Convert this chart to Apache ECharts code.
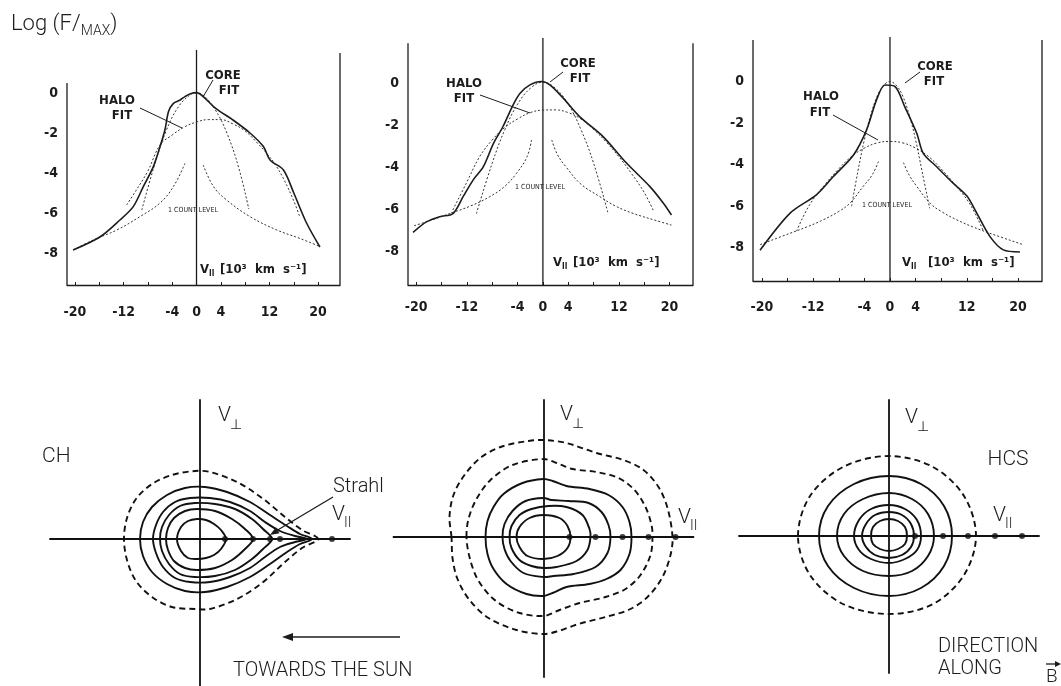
<!DOCTYPE html>
<html>
<head>
<meta charset="utf-8">
<title>Electron distributions: CH / intermediate / HCS</title>
<script src="https://cdn.jsdelivr.net/npm/echarts@6/dist/echarts.min.js"></script>
<style>
  html, body { margin: 0; padding: 0; background: #fff; }
  #chart { width: 1061px; height: 686px; }
</style>
</head>
<body>
<div id="chart"></div>
<script>
// ---------- values ----------
// top row: log(F/max) against V_par [10^3 km/s]
const vTicks = [-20, -12, -4, 0, 4, 12, 20];
const vMinorTicks = [-20, -16, -12, -8, -4, 0, 4, 8, 12, 16, 20];
const logTicks = [0, -2, -4, -6, -8];

// coronal hole (left)
const chMeasured = [[-20.3,-7.85],[-15.9,-7.2],[-12.6,-6.35],[-10.4,-5.68],[-8.75,-4.68],[-7.1,-3.68],[-6.0,-2.68],[-5.2,-1.85],[-4.6,-0.93],[-3.8,-0.52],[-2.7,-0.35],[-1.9,-0.18],[-1.1,-0.05],[0,0.02],[1.1,-0.18],[2.8,-0.68],[3.9,-0.93],[6.0,-1.35],[8.8,-2.0],[11.0,-2.68],[12.1,-3.35],[14.3,-3.85],[16.0,-5.0],[18.1,-6.5],[20.3,-7.7]];
const chCore = [[-9,-5.85],[-7,-3.7],[-5,-1.9],[-3,-0.7],[-1,-0.08],[0,0],[1,-0.08],[3,-0.8],[5,-2.0],[7,-3.8],[8.6,-5.8]];
const chHalo = [[-11.5,-5.6],[-10,-4.9],[-8,-3.9],[-6,-2.6],[-4,-2.1],[-2,-1.7],[0,-1.45],[2,-1.33],[4,-1.33],[6,-1.55],[8,-1.9],[10,-2.5],[11.5,-3.0],[13,-3.6],[14.5,-4.4],[16,-5.4],[17,-6.2]];
const chCountL = [[-1.9,-3.52],[-3.8,-4.68],[-6,-5.5],[-9.3,-6.18],[-13.1,-6.85],[-17,-7.35],[-20.3,-7.85]];
const chCountR = [[1.1,-3.6],[2.8,-4.68],[4.95,-5.35],[8.8,-6.18],[13.2,-6.85],[17,-7.27],[20.3,-7.68]];

// intermediate (middle)
const midMeasured = [[-20.5,-7.1],[-18.4,-6.6],[-16.3,-6.35],[-14.2,-6.2],[-12.6,-5.4],[-11.0,-4.6],[-9.4,-3.97],[-7.8,-2.86],[-6.3,-2.06],[-4.7,-1.03],[-3.6,-0.48],[-2.05,-0.08],[-0.2,0.08],[1.1,-0.08],[3.2,-0.71],[5.8,-1.59],[9.5,-2.54],[13.2,-3.8],[16.9,-4.92],[19.0,-5.7],[20.3,-6.27]];
const midCore = [[-10.5,-6.2],[-8,-3.8],[-6,-2.2],[-4,-1.0],[-2,-0.25],[0,0.05],[2,-0.25],[4,-1.0],[6,-2.2],[8,-3.8],[10.3,-6.2]];
const midHalo = [[-14.5,-6.2],[-12,-4.7],[-10,-3.5],[-8,-2.7],[-6,-2.1],[-4,-1.7],[-2,-1.4],[0,-1.28],[2,-1.27],[4,-1.4],[6,-1.7],[8,-2.2],[10,-2.8],[12,-3.5],[14,-4.3],[16,-5.2],[17.5,-6.1]];
const midCountL = [[-1.8,-2.7],[-2.5,-3.5],[-4.2,-4.3],[-6,-4.9],[-8.4,-5.4],[-11.5,-5.85],[-14.7,-6.2],[-17.5,-6.5],[-20.5,-6.8]];
const midCountR = [[1.4,-2.7],[2.3,-3.4],[3.7,-4.0],[6,-4.8],[9,-5.4],[11.5,-5.85],[14.3,-6.2],[17.5,-6.5],[20.3,-6.75]];

// current sheet (right)
const hcsMeasured = [[-20.3,-8.12],[-15.6,-6.33],[-11.5,-5.45],[-8.85,-4.57],[-5.7,-3.53],[-3.65,-2.32],[-2.1,-0.88],[-0.78,-0.16],[0.8,-0.24],[2.3,-1.2],[4.2,-2.5],[5.2,-3.45],[7.3,-4.1],[9.9,-4.9],[12,-5.5],[13.5,-6.3],[15.6,-7.45],[17.7,-8.1],[20.3,-8.2]];
const hcsCore = [[-6,-6.0],[-5,-4.3],[-4,-2.8],[-3,-1.6],[-2,-0.7],[-1,-0.18],[0,0],[1,-0.18],[2,-0.7],[3,-1.6],[4,-2.8],[5,-4.3],[6.2,-6.1]];
const hcsHalo = [[-14.6,-7.2],[-12.5,-5.9],[-10,-4.9],[-8,-4.2],[-6,-3.6],[-4,-3.2],[-2,-2.95],[0,-2.88],[2,-2.95],[4,-3.2],[6,-3.6],[8,-4.2],[10,-4.9],[12.5,-5.9],[14.6,-7.2]];
const hcsCountL = [[-1.8,-3.85],[-2.8,-4.5],[-4.2,-5.05],[-6.25,-5.85],[-8,-6.25],[-10.4,-6.65],[-13,-7.0],[-15.6,-7.3],[-20.3,-7.85]];
const hcsCountR = [[2.1,-3.9],[3,-4.5],[4.2,-5.05],[6.25,-5.85],[8,-6.25],[10.4,-6.65],[13,-7.0],[15.6,-7.3],[20.8,-7.85]];

// bottom row: iso-density contours in (V_par, V_perp), arbitrary velocity units (closed loops)
const chSolid = [
  [[26,0],[21,9],[14,15],[6,19],[-3,20],[-12,18],[-19,12],[-23,0],[-19,-12],[-12,-19],[-3,-20],[6,-19],[14,-16],[21,-10]],
  [[53,0],[45,10],[32,20],[15,28],[-3,30],[-15,28],[-26,21],[-32,11],[-34,0],[-32,-11],[-26,-22],[-15,-29],[-3,-31],[15,-29],[32,-21],[45,-10]],
  [[72,0],[63,10],[52,20],[35,30],[15,35],[-5,36],[-20,33],[-31,24],[-38,12],[-40,0],[-38,-12],[-31,-25],[-20,-35],[-5,-38],[15,-37],[35,-31],[52,-20],[63,-10]],
  [[107,0],[95,3],[80,8],[65,17],[50,28],[30,37],[10,41],[-10,41],[-25,37],[-37,27],[-44,14],[-47,0],[-44,-14],[-37,-28],[-25,-39],[-10,-43],[10,-43],[30,-38],[50,-29],[65,-18],[80,-8],[95,-3]],
  [[112,0],[100,5],[87,13],[70,24],[50,37],[27,47],[5,52],[-15,51],[-33,44],[-48,32],[-57,17],[-60,0],[-57,-17],[-48,-33],[-33,-45],[-15,-52],[5,-53],[27,-48],[50,-38],[70,-25],[87,-13],[100,-5]]
];
const chDashed = [
  [[118,0],[102,9],[85,22],[62,41],[37,57],[10,67],[-5,68],[-28,64],[-48,55],[-64,40],[-73,21],[-76,0],[-73,-21],[-64,-42],[-48,-58],[-28,-68],[-5,-70],[10,-70],[37,-60],[62,-44],[85,-23],[102,-9]]
];
const chDots = [25, 53, 70, 80, 132];

const midSolid = [
  [[-27,0],[-24,10],[-14,19],[0,22],[16,19],[24,11],[27,0],[24,-11],[14,-19],[0,-22],[-16,-19],[-24,-10]],
  [[-34,0],[-32,11],[-24,22],[-12,28],[5,31],[23,30],[39,22],[46,8],[47,0],[44,-13],[33,-24],[13,-30],[0,-31],[-12,-29],[-24,-23],[-32,-11]],
  [[-41,0],[-39,13],[-31,26],[-18,36],[0,39],[8,37],[25,36],[45,34],[58,25],[65,12],[67,0],[64,-16],[52,-30],[30,-37],[10,-39],[0,-40],[-20,-36],[-33,-24],[-39,-12]],
  [[-58,0],[-56,16],[-50,30],[-40,43],[-21,54],[0,58],[9,56],[23,51],[46,48],[65,42],[79,30],[86,15],[88,0],[86,-17],[77,-33],[63,-42],[46,-47],[23,-50],[9,-56],[0,-59],[-17,-57],[-37,-47],[-50,-32],[-56,-17]]
];
const midDashed = [
  [[-77,0],[-75,18],[-67,38],[-53,57],[-31,72],[0,78],[13,74],[29,68],[53,65],[75,59],[91,47],[102,30],[108,12],[109,0],[107,-18],[97,-38],[82,-52],[62,-60],[36,-66],[16,-73],[0,-79],[-27,-75],[-50,-62],[-66,-42],[-74,-20]],
  [[-92,0],[-94,20],[-90,42],[-79,62],[-62,80],[-40,91],[-15,96],[0,97],[23,94],[53,84],[80,77],[100,67],[115,50],[124,29],[129,0],[127,-18],[119,-40],[105,-59],[87,-72],[62,-80],[35,-87],[15,-94],[0,-97],[-27,-93],[-55,-81],[-74,-63],[-86,-42],[-91,-21]]
];
const midDots = [26, 52, 79, 105, 132];

const hcsSolid = [
  [[-18,0],[-16,9],[-9,15],[0,17],[9,15],[16,9],[18,0],[16,-8],[9,-13],[0,-15],[-9,-13],[-16,-8]],
  [[-27,0],[-23,12],[-14,21],[0,24],[13,21],[22,12],[25,0],[22,-11],[13,-19],[0,-22],[-14,-19],[-23,-11]],
  [[-35,0],[-30,16],[-18,27],[0,31],[16,27],[28,16],[32,0],[28,-14],[16,-23],[0,-27],[-18,-23],[-30,-14]],
  [[-52,0],[-45,22],[-26,37],[0,43],[23,37],[39,22],[45,0],[39,-20],[23,-35],[0,-40],[-26,-35],[-45,-20]],
  [[-70,0],[-61,30],[-35,52],[0,60],[32,52],[55,30],[63,0],[55,-30],[32,-52],[0,-60],[-35,-52],[-61,-30]]
];
const hcsDashed = [
  [[-91,0],[-79,40],[-46,69],[0,80],[44,69],[75,40],[87,0],[75,-39],[44,-68],[0,-78],[-46,-68],[-79,-39]]
];
const hcsDots = [26, 54, 79, 106, 133];

// ---------- layout ----------
const INK = '#1c1c1c';
const FT = '"Liberation Sans Narrow", "DejaVu Sans Condensed", "DejaVu Sans", sans-serif';
const FB = 'Roboto, "Open Sans", sans-serif';
const Y_MIN = -9.6, Y_MAX = 2.15;

const topPanels = [
  { grid: { left: 67, top: 50, width: 273, height: 235 }, xMin: -21.3, xMax: 23.6, leftTop: 0.5, rightTop: 2.0, labelMargin: 20,
    measured: chMeasured, fits: [chCore, chHalo, chCountL, chCountR] },
  { grid: { left: 408, top: 38, width: 285, height: 247 }, xMin: -21.3, xMax: 23.7, leftTop: 1.9, rightTop: 1.9, labelMargin: 15,
    measured: midMeasured, fits: [midCore, midHalo, midCountL, midCountR] },
  { grid: { left: 753, top: 37, width: 289, height: 244 }, xMin: -21.4, xMax: 23.75, leftTop: 2.0, rightTop: 2.0, labelMargin: 19,
    measured: hcsMeasured, fits: [hcsCore, hcsHalo, hcsCountL, hcsCountR] }
];
const bottomPanels = [
  { grid: { left: 50, top: 400, width: 300, height: 286 }, yMin: -147, yMax: 139, solid: chSolid, dashed: chDashed, dots: chDots },
  { grid: { left: 393.5, top: 400, width: 300, height: 277 }, yMin: -140, yMax: 137, solid: midSolid, dashed: midDashed, dots: midDots },
  { grid: { left: 739, top: 400, width: 300, height: 273 }, yMin: -137, yMax: 136, solid: hcsSolid, dashed: hcsDashed, dots: hcsDots }
];

const grids = [], xAxes = [], yAxes = [], series = [];

function line(gi, data, style, extra) {
  return Object.assign({
    type: 'line', xAxisIndex: gi, yAxisIndex: gi, data: data,
    symbol: 'none', showSymbol: false, silent: true, z: 3,
    lineStyle: Object.assign({ color: INK, width: 1.5 }, style)
  }, extra || {});
}

// closed contour: custom series, points mapped through the grid's axes,
// drawn as one smooth closed loop
function contour(gi, pts, dashed) {
  return {
    type: 'custom', coordinateSystem: 'cartesian2d', xAxisIndex: gi, yAxisIndex: gi,
    silent: true, z: 3, clip: true,
    data: [pts[0]],
    renderItem: (params, api) => ({
      type: 'polygon',
      shape: { points: pts.map(p => api.coord(p)), smooth: 0.33 },
      style: { fill: 'none', stroke: '#111', lineWidth: 1.9, lineDash: dashed ? [6, 4] : null }
    })
  };
}

topPanels.forEach((p, i) => {
  grids.push(p.grid);
  xAxes.push({
    gridIndex: i, type: 'value', min: p.xMin, max: p.xMax,
    axisLine: { show: true, onZero: false, lineStyle: { color: INK, width: 1.3 } },
    axisTick: { show: true, inside: true, length: 3, customValues: vMinorTicks, lineStyle: { color: INK } },
    axisLabel: { customValues: vTicks, margin: p.labelMargin, color: INK, fontFamily: FT, fontSize: 14, fontWeight: 'bold' },
    splitLine: { show: false }
  });
  yAxes.push({
    gridIndex: i, type: 'value', min: Y_MIN, max: Y_MAX,
    axisLine: { show: false }, axisTick: { show: false },
    axisLabel: { customValues: logTicks, margin: 9, color: INK, fontFamily: FT, fontSize: 14, fontWeight: 'bold' },
    splitLine: { show: false }
  });
  // frame: left axis, V=0 line, right border
  series.push(line(i, [[p.xMin, Y_MIN], [p.xMin, p.leftTop]], { width: 1.3 }));
  series.push(line(i, [[0, Y_MIN], [0, Y_MAX]], { width: 1.3 }));
  series.push(line(i, [[p.xMax, Y_MIN], [p.xMax, p.rightTop]], { width: 1.3 }));
  series.push(line(i, p.measured, { width: 1.6 }, { smooth: 0.3, z: 4 }));
  p.fits.forEach(f => series.push(line(i, f, { width: 1, type: [2, 2], color: '#333' }, { smooth: 0.4 })));
});

bottomPanels.forEach((p, k) => {
  const gi = k + 3;
  grids.push(p.grid);
  xAxes.push({
    gridIndex: gi, type: 'value', min: -150, max: 150,
    axisLine: { show: true, onZero: true, lineStyle: { color: '#111', width: 1.8 } },
    axisTick: { show: false }, axisLabel: { show: false }, splitLine: { show: false }
  });
  yAxes.push({
    gridIndex: gi, type: 'value', min: p.yMin, max: p.yMax,
    axisLine: { show: true, onZero: true, lineStyle: { color: '#111', width: 1.8 } },
    axisTick: { show: false }, axisLabel: { show: false }, splitLine: { show: false }
  });
  p.solid.forEach(c => series.push(contour(gi, c, false)));
  p.dashed.forEach(c => series.push(contour(gi, c, true)));
  series.push({
    type: 'scatter', xAxisIndex: gi, yAxisIndex: gi, silent: true, z: 5,
    data: p.dots.map(v => [v, 0]), symbolSize: 6, itemStyle: { color: '#111' }
  });
});

// ---------- text and arrows ----------
const mctx = document.createElement('canvas').getContext('2d');
function textW(str, size, fam, weight) {
  mctx.font = (weight || 'normal') + ' ' + size + 'px ' + fam;
  return mctx.measureText(str).width;
}
function T(str, x, y, size, fam, weight, align) {
  return {
    type: 'text', x: x, y: y, silent: true, z: 10,
    style: {
      text: str, fontSize: size, fontFamily: fam, fontWeight: weight || 'normal', fill: INK,
      align: align || 'left', verticalAlign: 'middle', textAlign: align || 'left', textVerticalAlign: 'middle'
    }
  };
}
function seg(x1, y1, x2, y2, w) {
  return { type: 'line', silent: true, z: 10, shape: { x1, y1, x2, y2 }, style: { stroke: INK, lineWidth: w || 1 } };
}
function arrowHead(x, y, angle, len, half) {
  const c = Math.cos(angle), s = Math.sin(angle);
  const bx = x - len * c, by = y - len * s;
  return {
    type: 'polygon', silent: true, z: 10,
    shape: { points: [[x, y], [bx - half * s, by + half * c], [bx + half * s, by - half * c]] },
    style: { fill: INK }
  };
}
// V with a subscript; sub drawn right after the measured width of the V
function vSub(x, cy, sub, size, subSize, fam, weight, dy) {
  const w = textW('V', size, fam, weight);
  return [T('V', x, cy, size, fam, weight), T(sub, x + w - 1, cy + dy, subSize, fam, weight)];
}

const graphic = [];
// top-left axis title
graphic.push(T('Log (F/', 11, 24, 22, FB, 300));
const wLog = textW('Log (F/', 22, FB, 300);
graphic.push(T('MAX', 11 + wLog, 31, 14, FB, 300));
graphic.push(T(')', 11 + wLog + textW('MAX', 14, FB, 300), 24, 22, FB, 300));

// top annotations
const topNotes = [
  { halo: [117, 101, 122, 116], core: [223, 76, 229, 91], count: [193, 210], hl: [140, 108, 182, 128], cl: [203, 97, 213, 80], vx: 200, vy: 270, bx: 220 },
  { halo: [464, 84, 464, 99], core: [578, 64, 580, 79], count: [540, 187], hl: [480, 95, 530, 113], cl: [550, 82, 563, 72], vx: 553, vy: 263, bx: 573 },
  { halo: [821, 97, 820, 113], core: [935, 67, 934, 82], count: [887, 205], hl: [833, 115, 878, 140], cl: [905, 83, 920, 72], vx: 902, vy: 263, bx: 928 }
];
topNotes.forEach(n => {
  graphic.push(T('HALO', n.halo[0], n.halo[1], 13, FT, 'bold', 'center'));
  graphic.push(T('FIT', n.halo[2], n.halo[3], 13, FT, 'bold', 'center'));
  graphic.push(T('CORE', n.core[0], n.core[1], 13, FT, 'bold', 'center'));
  graphic.push(T('FIT', n.core[2], n.core[3], 13, FT, 'bold', 'center'));
  graphic.push(T('1 COUNT LEVEL', n.count[0], n.count[1], 7, FT, 'normal', 'center'));
  graphic.push(seg(n.hl[0], n.hl[1], n.hl[2], n.hl[3], 1));
  graphic.push(seg(n.cl[0], n.cl[1], n.cl[2], n.cl[3], 1));
  graphic.push(T('V', n.vx, n.vy, 13, FT, 'bold'));
  graphic.push(T('II', n.vx + 9, n.vy + 4, 8, FT, 'bold'));
  graphic.push(T('[10³  km  s⁻¹]', n.bx, n.vy, 13, FT, 'bold'));
});

// bottom annotations
graphic.push(T('CH', 42, 457, 21, FB, 300));
graphic.push(T('Strahl', 333, 487, 20, FB, 300));
graphic.push(T('HCS', 1008, 460, 21, FB, 300, 'center'));
graphic.push(T('TOWARDS THE SUN', 233, 671, 20, FB, 300));
graphic.push(T('DIRECTION', 938, 647, 20, FB, 300));
graphic.push(T('ALONG', 938, 669, 20, FB, 300));
graphic.push(T('B', 1046, 677, 19, FB, 300));
graphic.push(seg(1046, 664, 1056, 664, 1.3));
graphic.push(arrowHead(1061, 664, 0, 6, 3));
[[218, 416], [560, 415], [905, 418]].forEach(p => vSub(p[0], p[1], '⊥', 21, 14, FB, 300, 9).forEach(e => graphic.push(e)));
[[332, 515], [678, 518], [993, 516]].forEach(p => vSub(p[0], p[1], 'II', 21, 14, FB, 300, 8).forEach(e => graphic.push(e)));
// strahl pointer and sunward arrow
graphic.push(seg(333, 497, 276, 531, 1.3));
graphic.push(arrowHead(270, 535, Math.atan2(535 - 497, 270 - 333), 9, 3.5));
graphic.push(seg(400, 637, 290, 637, 1.3));
graphic.push(arrowHead(282, 637, Math.PI, 11, 4));

const chart = echarts.init(document.getElementById('chart'), null, { renderer: 'canvas' });
chart.setOption({
  animation: false,
  backgroundColor: '#fff',
  textStyle: { fontFamily: FT },
  grid: grids,
  xAxis: xAxes,
  yAxis: yAxes,
  series: series,
  graphic: graphic
});
window.addEventListener('resize', () => chart.resize());
</script>
</body>
</html>
